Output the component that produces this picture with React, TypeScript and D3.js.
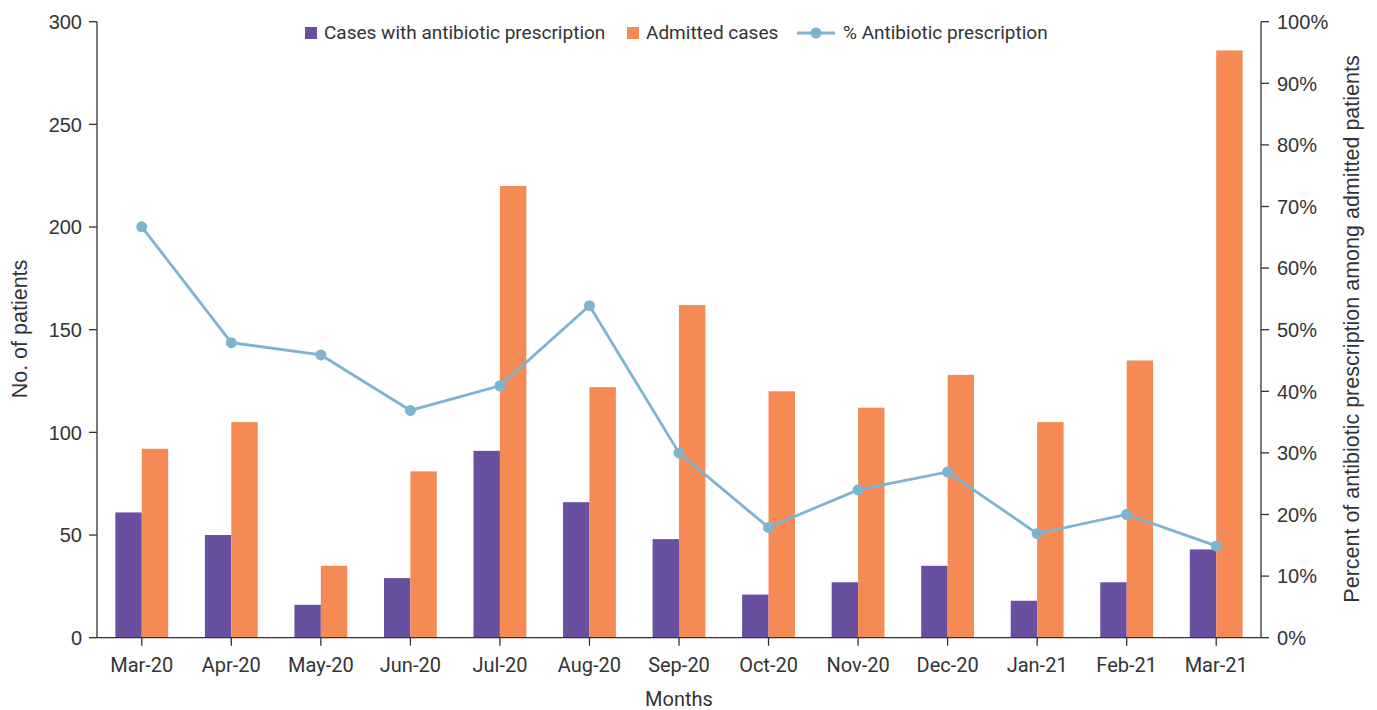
import React from "react";
import * as d3 from "d3";

const months = ["Mar-20", "Apr-20", "May-20", "Jun-20", "Jul-20", "Aug-20", "Sep-20", "Oct-20", "Nov-20", "Dec-20", "Jan-21", "Feb-21", "Mar-21"];
const antibioticCases = [61, 50, 16, 29, 91, 66, 48, 21, 27, 35, 18, 27, 43];
const admittedCases = [92, 105, 35, 81, 220, 122, 162, 120, 112, 128, 105, 135, 286];
const pctAntibiotic = [66.7, 47.9, 45.9, 36.9, 40.9, 53.9, 30, 17.9, 24, 26.9, 16.9, 20, 14.9];
const leftTicks = [0, 50, 100, 150, 200, 250, 300];
const rightTicks = [0, 10, 20, 30, 40, 50, 60, 70, 80, 90, 100];

const PURPLE = "#684f9f";
const ORANGE = "#f58a55";
const BLUE = "#7db4cf";
const TEXT = "#333333";
const tickFont = "'Liberation Sans', Arial, sans-serif";
const labelFont = "Roboto, sans-serif";

export default function App() {
  const W = 1377, H = 710;
  const left = 97, right = 1261, top = 21.7, bottom = 637.7;

  const x0 = d3.scaleBand().domain(months).range([left, right]).padding(0);
  const groupW = x0.bandwidth() * 0.59;
  const x1 = d3.scaleBand()
    .domain(["rx", "adm"])
    .range([(x0.bandwidth() - groupW) / 2, (x0.bandwidth() + groupW) / 2]);
  const y = d3.scaleLinear().domain([0, 300]).range([bottom, top]);
  const yP = d3.scaleLinear().domain([0, 100]).range([bottom, top]);

  const line = d3.line<number>()
    .x((_, i) => x0(months[i])! + x0.bandwidth() / 2)
    .y(d => yP(d));

  return (
    <svg width={W} height={H} style={{ position: "absolute", left: 0, top: 0, background: "#fff" }}>
      {/* bars */}
      {months.map((m, i) => (
        <g key={m} transform={`translate(${x0(m)},0)`}>
          <rect x={x1("rx")} y={y(antibioticCases[i])} width={x1.bandwidth()} height={bottom - y(antibioticCases[i])} fill={PURPLE} />
          <rect x={x1("adm")} y={y(admittedCases[i])} width={x1.bandwidth()} height={bottom - y(admittedCases[i])} fill={ORANGE} />
        </g>
      ))}

      {/* line */}
      <path d={line(pctAntibiotic) || ""} fill="none" stroke={BLUE} strokeWidth={2.8} />
      {pctAntibiotic.map((p, i) => (
        <circle key={i} cx={x0(months[i])! + x0.bandwidth() / 2} cy={yP(p)} r={5.5} fill={BLUE} />
      ))}

      {/* left axis */}
      <line x1={left} x2={left} y1={top} y2={bottom} stroke={TEXT} strokeWidth={1.3} />
      {leftTicks.map(t => (
        <g key={t}>
          <line x1={left - 8} x2={left} y1={y(t)} y2={y(t)} stroke={TEXT} strokeWidth={1.3} />
          <text x={left - 15} y={y(t)} dy="0.36em" textAnchor="end" fontFamily={tickFont} fontSize={20} fill={TEXT}>{t}</text>
        </g>
      ))}
      <text transform={`translate(27,${329}) rotate(-90)`} textAnchor="middle" fontFamily={tickFont} fontSize={21.5} fill={TEXT}>No. of patients</text>

      {/* right axis */}
      <line x1={right} x2={right} y1={top} y2={bottom} stroke={TEXT} strokeWidth={1.3} />
      {rightTicks.map(t => (
        <g key={t}>
          <line x1={right} x2={right + 8} y1={yP(t)} y2={yP(t)} stroke={TEXT} strokeWidth={1.3} />
          <text x={right + 16} y={yP(t)} dy="0.36em" textAnchor="start" fontFamily={tickFont} fontSize={20} fill={TEXT}>{t}%</text>
        </g>
      ))}
      <text transform={`translate(1359,${329}) rotate(-90)`} textAnchor="middle" fontFamily={tickFont} fontSize={21.5} fill={TEXT}>Percent of antibiotic prescription among admitted patients</text>

      {/* bottom axis */}
      <line x1={left} x2={right} y1={bottom} y2={bottom} stroke={TEXT} strokeWidth={1.3} />
      {months.map(m => {
        const cx = x0(m)! + x0.bandwidth() / 2;
        return (
          <g key={m}>
            <line x1={cx} x2={cx} y1={bottom} y2={bottom + 8} stroke={TEXT} strokeWidth={1.3} />
            <text x={cx} y={672} textAnchor="middle" fontFamily={labelFont} fontSize={20} fill={TEXT}>{m}</text>
          </g>
        );
      })}
      <text x={679} y={706} textAnchor="middle" fontFamily={labelFont} fontSize={20} fill={TEXT}>Months</text>

      {/* legend */}
      <g fontFamily={labelFont} fontSize={19} fill={TEXT}>
        <rect x={305} y={27} width={12} height={12} fill={PURPLE} />
        <text x={324} y={39}>Cases with antibiotic prescription</text>
        <rect x={627} y={27} width={12} height={12} fill={ORANGE} />
        <text x={646} y={39}>Admitted cases</text>
        <line x1={797} x2={835} y1={33} y2={33} stroke={BLUE} strokeWidth={3} />
        <circle cx={816} cy={33} r={5.5} fill={BLUE} />
        <text x={843} y={39}>% Antibiotic prescription</text>
      </g>
    </svg>
  );
}
